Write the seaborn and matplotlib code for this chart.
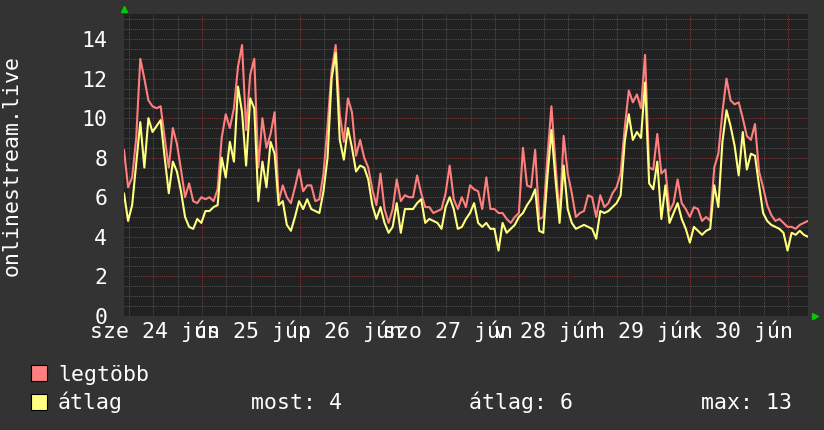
import numpy as np
import pandas as pd
import matplotlib
matplotlib.use("Agg")
import matplotlib.pyplot as plt
import seaborn as sns
from matplotlib.patches import Rectangle
from matplotlib.ticker import MultipleLocator

# hourly samples, first one ~19h before midnight of jún 24 (x in days)
START_DAY = -0.798
day_labels = ["sze 24 jún", "cs 25 jún", "p 26 jún", "szo 27 jún",
              "v 28 jún", "h 29 jún", "k 30 jún"]

legtobb = [
    8.4, 6.5, 7.0, 9.0, 13.0, 12.0, 10.9, 10.6, 10.5, 10.6, 9.0, 7.5,
    9.5, 8.7, 7.4, 6.0, 6.7, 5.8, 5.7, 6.0, 5.9, 6.0, 5.8, 6.4,
    9.0, 10.2, 9.5, 10.5, 12.6, 13.7, 9.4, 12.2, 13.0, 7.5, 10.0, 8.5,
    9.2, 10.3, 5.8, 6.6, 6.0, 5.7, 6.5, 7.4, 6.3, 6.6, 6.6, 5.8,
    5.9, 7.2, 9.6, 12.4, 13.7, 10.2, 8.8, 11.0, 10.3, 8.1, 8.9, 8.0,
    7.5, 6.4, 5.6, 7.2, 5.4, 4.7, 5.4, 6.9, 5.8, 6.1, 6.0, 6.0,
    7.1, 6.2, 5.5, 5.5, 5.2, 5.3, 5.4, 6.2, 7.6, 5.9, 5.4, 6.0,
    5.5, 6.6, 6.4, 6.3, 5.4, 7.0, 5.4, 5.4, 5.2, 5.2, 4.9, 4.7,
    5.0, 5.2, 8.5, 6.6, 6.5, 8.4, 4.9, 5.0, 8.0, 10.6, 7.7, 5.0,
    9.1, 7.2, 6.2, 5.0, 5.2, 5.3, 6.1, 6.0, 5.0, 6.1, 5.5, 5.7,
    6.2, 6.5, 7.2, 9.5, 11.4, 10.8, 11.2, 10.5, 13.2, 7.5, 7.4, 9.2,
    7.2, 7.4, 5.3, 5.7, 6.9, 5.7, 5.4, 5.0, 5.5, 5.4, 4.8, 5.0,
    4.8, 7.5, 8.2, 10.3, 12.0, 10.9, 10.7, 10.8, 10.0, 9.1, 8.9, 9.7,
    7.3, 6.5, 5.6, 5.1, 4.8, 4.9, 4.7, 4.5, 4.5, 4.4, 4.6, 4.7, 4.8,
]

atlag = [
    6.2, 4.8, 5.6, 7.7, 9.8, 7.5, 10.0, 9.3, 9.6, 9.9, 8.0, 6.2,
    7.8, 7.3, 6.3, 5.0, 4.5, 4.4, 4.9, 4.7, 5.3, 5.3, 5.5, 5.6,
    8.0, 7.0, 8.8, 7.8, 11.6, 10.3, 7.6, 11.0, 10.5, 5.8, 7.8, 6.5,
    8.8, 8.2, 5.6, 5.8, 4.6, 4.3, 5.0, 5.8, 5.4, 5.9, 5.4, 5.3,
    5.2, 6.3, 8.0, 12.0, 13.3, 8.9, 7.9, 9.5, 8.5, 7.3, 7.6, 7.5,
    6.9, 5.6, 4.9, 5.5, 4.7, 4.2, 4.5, 5.7, 4.2, 5.4, 5.4, 5.4,
    5.7, 5.9, 4.7, 4.9, 4.8, 4.7, 4.4, 5.5, 6.0, 5.4, 4.4, 4.5,
    4.9, 5.2, 5.7, 4.7, 4.5, 4.7, 4.4, 4.4, 3.3, 4.7, 4.2, 4.4,
    4.6, 5.0, 5.2, 5.6, 5.9, 6.4, 4.3, 4.2, 7.0, 9.4, 6.9, 4.7,
    7.6, 5.4, 4.7, 4.4, 4.5, 4.6, 4.5, 4.4, 3.9, 5.3, 5.2, 5.3,
    5.5, 5.7, 6.1, 8.8, 10.2, 8.9, 9.3, 9.0, 11.8, 6.7, 6.4, 7.8,
    4.9, 6.6, 4.7, 5.2, 5.7, 4.9, 4.4, 3.7, 4.5, 4.3, 4.1, 4.3,
    4.4, 6.6, 5.5, 8.8, 10.4, 9.6, 8.6, 7.1, 9.3, 7.4, 8.2, 8.1,
    6.6, 5.2, 4.8, 4.6, 4.5, 4.4, 4.2, 3.3, 4.2, 4.1, 4.3, 4.1, 4.0,
]

BG = "#333333"
PLOT_BG = "#212121"
RED = "#ff7f7f"
YELLOW = "#ffff7f"
MINOR_GRID = "#505050"
MAJOR_GRID = "#7a3838"
ARROW = "#00cc00"

df = pd.DataFrame({
    "day": START_DAY + np.arange(len(atlag)) / 24,
    "legtöbb": legtobb,
    "átlag": atlag,
})

sns.set_style("dark")
plt.rcParams["font.family"] = ["DejaVu Sans Mono"]
FS = 15.5

fig = plt.figure(figsize=(8.24, 4.30), dpi=100, facecolor=BG)
ax = fig.add_axes([124 / 824, 1 - 315.8 / 430, 684 / 824, 301.8 / 430])
ax.set_facecolor(PLOT_BG)

sns.lineplot(data=df, x="day", y="legtöbb", color=RED, lw=1.5,
             estimator=None, ax=ax, legend=False)
sns.lineplot(data=df, x="day", y="átlag", color=YELLOW, lw=1.5,
             estimator=None, ax=ax, legend=False)

ax.set_xlim(START_DAY, 6.203)
ax.set_ylim(0, 15.27)
ax.set_xlabel("")
ax.set_ylabel("")

ax.xaxis.set_major_locator(MultipleLocator(1))
ax.xaxis.set_minor_locator(MultipleLocator(0.25))
ax.yaxis.set_major_locator(MultipleLocator(2))
ax.yaxis.set_minor_locator(MultipleLocator(0.5))
ax.set_axisbelow(True)
ax.grid(which="minor", color=MINOR_GRID, ls=(0, (1, 1)), lw=0.75)
ax.grid(which="major", color=MAJOR_GRID, ls=(0, (1, 1)), lw=0.75)

ax.tick_params(axis="x", which="both", labelbottom=False, length=0)
ax.tick_params(axis="y", which="both", length=0, pad=12,
               labelsize=FS, labelcolor="white")
for s in ax.spines.values():
    s.set_visible(False)

# day labels, centred between midnights like rrdtool does
for i, lab in enumerate(day_labels):
    ax.text(i - 0.48, -0.0736, lab, transform=ax.get_xaxis_transform(),
            ha="center", va="baseline", fontsize=FS, color="white")

# green axis arrows
ax.plot([0], [1 + 5 / 301.8], marker="^", ms=5, color=ARROW,
        transform=ax.transAxes, clip_on=False)
ax.plot([1 + 7 / 684], [0], marker=">", ms=5, color=ARROW,
        transform=ax.transAxes, clip_on=False)

fig.text(12 / 824, 1 - 165 / 430, "onlinestream.live", rotation=90,
         ha="center", va="center", fontsize=FS, color="white")

# legend block
most = atlag[-1]
avg = np.mean(atlag)
mx = max(atlag)
W, H = 824, 430
for top, col in [(365, RED), (394, YELLOW)]:
    fig.patches.append(Rectangle((31 / W, 1 - (top + 16) / H), 16 / W, 16 / H,
                                 transform=fig.transFigure, facecolor=col,
                                 edgecolor="black", lw=0.8))
fig.text(58 / W, 1 - 381 / H, "legtöbb", fontsize=FS, color="white", va="baseline")
fig.text(58 / W, 1 - 409 / H, "átlag", fontsize=FS, color="white", va="baseline")
fig.text(251 / W, 1 - 409 / H, f"most: {most:.0f}", fontsize=FS, color="white", va="baseline")
fig.text(469 / W, 1 - 409 / H, f"átlag: {avg:.0f}", fontsize=FS, color="white", va="baseline")
fig.text(701 / W, 1 - 409 / H, f"max: {mx:.0f}", fontsize=FS, color="white", va="baseline")

fig.savefig("out.png", dpi=100, facecolor=BG)
